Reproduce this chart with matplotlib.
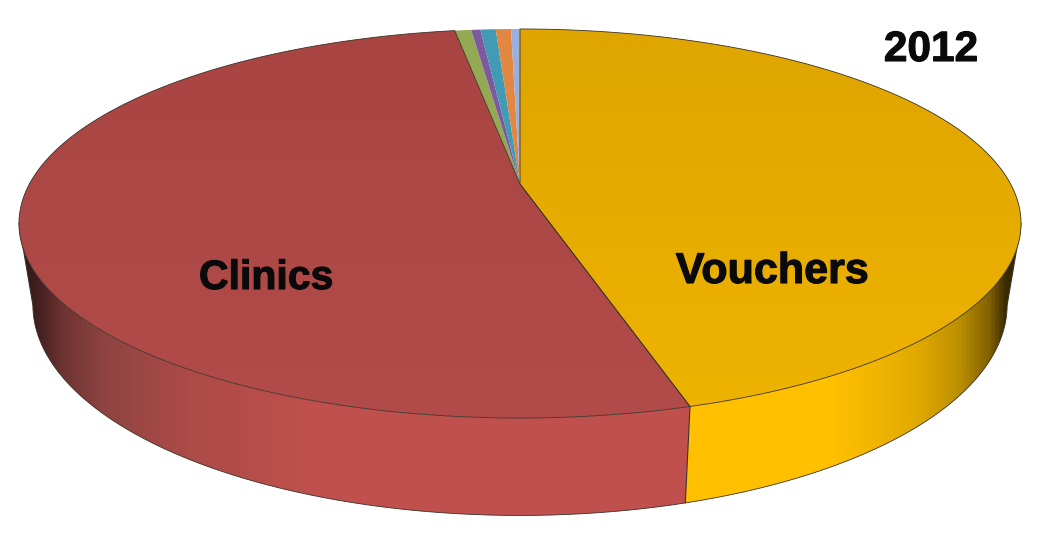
import numpy as np
import matplotlib as mpl
mpl.use('Agg')
import matplotlib.pyplot as plt
import matplotlib.patheffects as pe
from matplotlib.patches import Polygon
from matplotlib.colors import LinearSegmentedColormap

labels = ['Vouchers', 'Clinics', 'Other 1', 'Other 2', 'Other 3', 'Other 4', 'Other 5']
shares = [45.5, 51.95, 0.64, 0.36, 0.6, 0.6, 0.35]
year = '2012'

plt.rcParams['font.family'] = ['Liberation Sans', 'DejaVu Sans']

small_colors = ['#93A954', '#7D5AA0', '#419BB4', '#E18741', '#9BAFDC']
edge = '#3a3228'

# perspective of the disc: the centre sits above the middle of the ellipse
k = 0.203
cx = 520.0
top_a, top_b, top_y0 = 490.6, 186.5, 184.0
low_a, low_b, low_y0 = 477.0, 202.0, 262.0


def project(deg, a, b, y0):
    t = np.radians(deg)
    u, v = np.sin(t), np.cos(t)
    d = 1 + k * v
    return cx + a * u / d, y0 - b * v / d


def top_pts(d1, d2):
    n = max(int(abs(d2 - d1) * 2), 2)
    x, y = project(np.linspace(d1, d2, n), top_a, top_b, top_y0)
    return np.column_stack([x, y])


def low_pts(d1, d2):
    n = max(int(abs(d2 - d1) * 2), 2)
    x, y = project(np.linspace(d1, d2, n), low_a, low_b, low_y0)
    return np.column_stack([x, y])


def gradient(ax, poly, stops, vertical=False):
    cmap = LinearSegmentedColormap.from_list('g', stops)
    ramp = np.linspace(0, 1, 512)
    img = ramp[:, None] if vertical else ramp[None, :]
    im = ax.imshow(img, cmap=cmap, vmin=0, vmax=1, extent=(0, 1044, 534, 0),
                   aspect='auto', zorder=poly.get_zorder(), interpolation='bilinear')
    im.set_clip_path(poly)


fig = plt.figure(figsize=(10.44, 5.34), dpi=100)
ax = fig.add_axes([0, 0, 1, 1])

edges = np.concatenate([[0], np.cumsum(shares)]) * 3.6
side_from = np.degrees(np.arccos(-k))
side_to = 360 - side_from

# side wall
yellow_side = [(0, '#FFC000'), (0.80, '#FFC000'), (0.88, '#E2AA00'), (0.92, '#BC9000'),
               (0.95, '#806000'), (0.965, '#3A2C00'), (1, '#1A1400')]
red_side = [(0, '#2A1212'), (0.03, '#3C1C1C'), (0.06, '#6E3433'), (0.10, '#904442'),
            (0.18, '#AC4B48'), (0.30, '#C0504D'), (1, '#C0504D')]
wall_y = np.vstack([top_pts(side_from, edges[1]), low_pts(edges[1], side_from)])
wall_r = np.vstack([top_pts(edges[1], side_to), low_pts(side_to, edges[1])])
py = Polygon(wall_y, closed=True, fc='none', ec='none', zorder=1)
pr = Polygon(wall_r, closed=True, fc='none', ec='none', zorder=1)
ax.add_patch(py)
ax.add_patch(pr)
gradient(ax, py, yellow_side)
gradient(ax, pr, red_side)
ax.plot(*low_pts(side_from, side_to).T, color=edge, lw=0.6, zorder=2)
for d in [side_from, side_to, edges[1]]:
    p = np.vstack([top_pts(d, d)[:1], low_pts(d, d)[:1]])
    ax.plot(p[:, 0], p[:, 1], color=edge, lw=0.8, zorder=2)

# top face
centre = np.array([[cx, top_y0]])
top_stops = [['#DFA500', '#EFB400'], ['#A84543', '#B24C4A']]
for i in range(2):
    poly = Polygon(np.vstack([centre, top_pts(edges[i], edges[i + 1])]), closed=True,
                   fc='none', ec='none', zorder=3)
    ax.add_patch(poly)
    gradient(ax, poly, [(0, top_stops[i][0]), (0.08, top_stops[i][0]), (0.8, top_stops[i][1]), (1, top_stops[i][1])], vertical=True)
    ax.add_patch(Polygon(poly.get_xy(), closed=True, fc='none', ec=edge, lw=0.6, zorder=4))
for i in range(2, len(shares)):
    ax.add_patch(Polygon(np.vstack([centre, top_pts(edges[i], edges[i + 1])]), closed=True,
                         fc=small_colors[i - 2], ec='none', zorder=3))

bolder = [pe.withStroke(linewidth=0.8, foreground='#0a0a0a')]
ax.text(772, 272, labels[0], fontsize=31, fontweight='bold', ha='center', va='center', color='#0a0a0a', zorder=5, path_effects=bolder)
ax.text(266, 278, labels[1], fontsize=29.5, fontweight='bold', ha='center', va='center', color='#0a0a0a', zorder=5, path_effects=bolder)
ax.text(931, 50, year, fontsize=30.5, fontweight='bold', ha='center', va='center', color='#0a0a0a', zorder=5, path_effects=bolder)

ax.set_xlim(0, 1044)
ax.set_ylim(534, 0)
ax.axis('off')
fig.savefig('out.png', dpi=100)
